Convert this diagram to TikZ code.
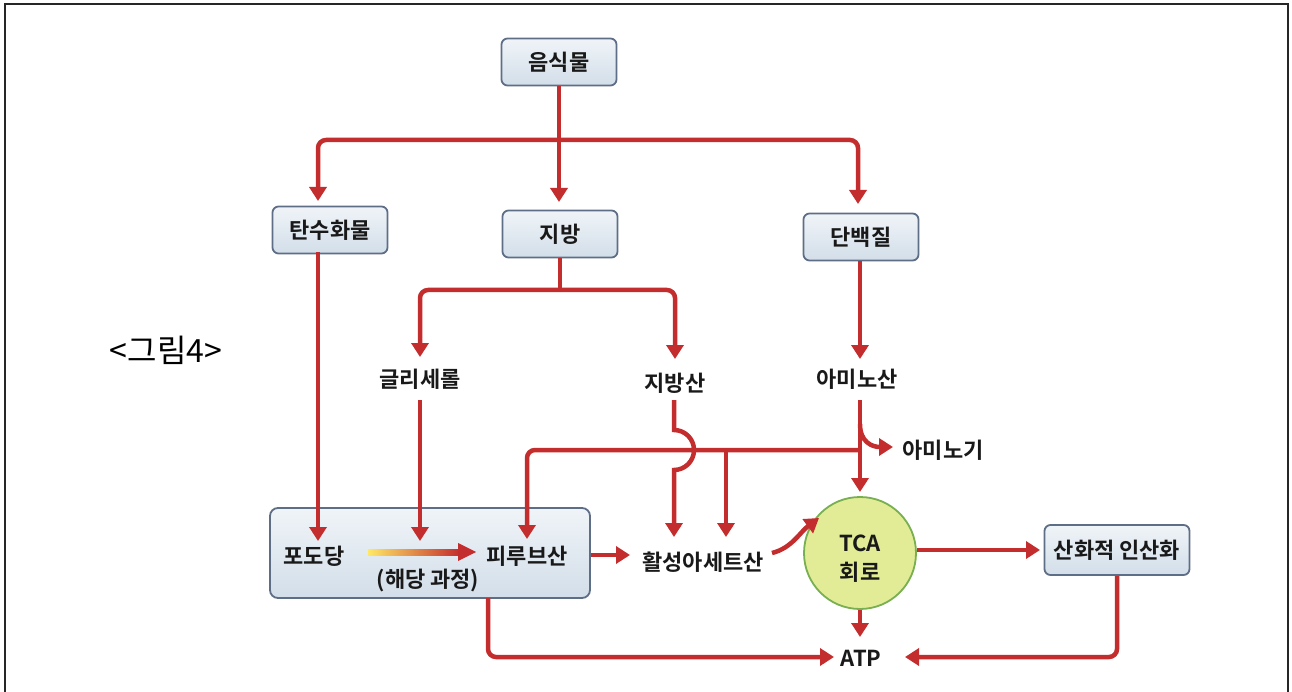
\documentclass[tikz,border=0pt]{standalone}
\usepackage{fontspec}
\setmainfont{Noto Sans CJK KR}
\newfontfamily\lblfont{Noto Sans CJK KR Bold}
\usetikzlibrary{arrows.meta}
\definecolor{arr}{RGB}{196,45,45}
\definecolor{boxline}{RGB}{95,110,135}
\definecolor{boxtop}{RGB}{240,244,248}
\definecolor{boxbot}{RGB}{210,222,233}
\definecolor{tcafill}{RGB}{226,236,150}
\definecolor{tcaline}{RGB}{120,175,80}
\tikzset{
  x=1pt, y=-1pt,
  lbl/.style={font=\lblfont\fontsize{22}{24}\selectfont, text=black!90, inner sep=0pt},
  box/.style={lbl, draw=boxline, line width=1.8pt, rounded corners=6pt,
    top color=boxtop, bottom color=boxbot, minimum width=115pt, minimum height=47pt},
  flow/.style={draw=arr, line width=4.5pt, rounded corners=8pt,
    -{Triangle[width=17pt,length=14pt]}},
  flowline/.style={draw=arr, line width=4.5pt, rounded corners=8pt},
}
\begin{document}
\begin{tikzpicture}
\useasboundingbox (0,0) rectangle (1292,692);
\fill[white] (0,0) rectangle (1292,692);
% frame
\draw[line width=2pt, black!85] (5,692) -- (5,4) -- (1288,4) -- (1288,692);

% caption
\node[font=\fontsize{32}{34}\selectfont, inner sep=0pt] (cap) at (166,350) {<그림4>};

% big box
\node[box, minimum width=320pt, minimum height=90pt, rounded corners=8pt] (glyc) at (430,553) {};

% boxes
\node[box] (food) at (559,62) {음식물};
\node[box] (carb) at (330,230) {탄수화물};
\node[box] (fat) at (560,234) {지방};
\node[box] (prot) at (861,237) {단백질};
\node[box, minimum width=145pt, minimum height=50pt] (oxp) at (1117,550) {산화적 인산화};
\node[lbl, circle, draw=tcaline, line width=1.8pt, fill=tcafill, minimum size=112pt, align=center] (tca) at (860,553) {};
\node[lbl] (tcat) at (860,543) {TCA};
\node[lbl] (tcab) at (860,572) {회로};

% text labels
\node[lbl] (glyr) at (420,379) {글리세롤};
\node[lbl] (fa) at (675,383) {지방산};
\node[lbl] (aa) at (857,379) {아미노산};
\node[lbl] (amg) at (943,450) {아미노기};
\node[lbl] (glu) at (314,556) {포도당};
\node[lbl] (pyr) at (527,556) {피루브산};
\node[lbl] (hd) at (428,580) {(해당 과정)};
\node[lbl] (aca) at (703,562) {활성아세트산};
\node[lbl] (atp) at (861,658) {ATP};

% coordinates
\coordinate (br) at (559,140);
\coordinate (fbr) at (560,290);

% food branches
\draw[flowline] (food.south) -- (br);
\draw[flow] (br) -| (318,201);
\draw[flow] (br) -- (559,202);
\draw[flow] (br) -| (858,204);

% fat branches
\draw[flowline] (fat.south) -- (fbr);
\draw[flow] (fbr) -| (420,357);
\draw[flow] (fbr) -| (675,359);

% carbohydrate to glucose
\draw[flow] (318,252) -- (318,541);
% glycerol down
\draw[flow] (420,400) -- (420,541);
% protein to amino acid
\draw[flow] (860,261) -- (860,359);

% amino acid down to TCA
\draw[flow] (860,400) -- (860,492);
% amino group branch
\draw[flow, rounded corners=0pt] (860,424) .. controls (860,442) and (872,447) .. (893,447);
% horizontal collector
\draw[flow] (860,450) -- (527,450) -- (527,539);
\draw[flow] (726,450) -- (726,537);
% fatty acid with hop
\draw[flow, rounded corners=0pt] (674,400) -- (674,430) arc[start angle=-90, end angle=90, radius=20] -- (674,537);

% glycolysis gradient arrow
\coordinate (ga) at (368,552);
\coordinate (gb) at (476,552);
\shade[left color=yellow!70!orange!60, right color=arr] (ga) ++(0,-3) rectangle (460,555);
\fill[arr] (gb) -- (458,543) -- (458,561) -- cycle;

% pyruvate to acetyl
\draw[flow] (glyc.east |- 0,555) -- (630,555);
% acetyl to TCA
\draw[flow, rounded corners=0pt] (772,553) .. controls (792,548) and (800,532) .. (819,518);
% TCA to oxphos
\draw[flow] (tca.east |- 0,550) -- (1040,550);
% TCA to ATP
\draw[flow] (tca.south) -- (860,637);
% glycolysis to ATP
\draw[flow] (488,598) |- (834,657);
% oxphos to ATP
\draw[flow] (oxp.south) |- (905,657);
\end{tikzpicture}
\end{document}
